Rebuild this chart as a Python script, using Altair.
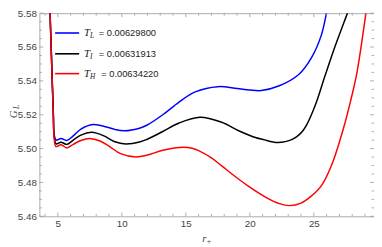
import altair as alt
import pandas as pd

# ---- data ----
r_low = [4.35, 4.45, 4.55, 4.65, 4.72, 4.87, 5.25, 5.7, 6.2, 6.8, 7.75, 8.8, 9.5, 10.2,
         11.44, 11.95, 13.2, 14.47, 15.73, 17.5, 19.0, 20.0, 20.9, 22.3, 23.8, 24.83,
         25.58, 26.04, 26.3]
G_low = [5.590, 5.567, 5.544, 5.521, 5.508, 5.5050, 5.5060, 5.5048, 5.5075, 5.5115, 5.5142,
         5.5128, 5.5112, 5.5105, 5.5122, 5.5138, 5.5200, 5.5275, 5.5335, 5.5366, 5.5355,
         5.5346, 5.5343, 5.5371, 5.5436, 5.5539, 5.5669, 5.5820, 5.5920]

r_int = [4.35, 4.45, 4.55, 4.65, 4.72, 4.87, 5.25, 5.7, 6.2, 6.8, 7.65, 8.6, 9.4, 10.3,
         11.44, 11.95, 13.2, 14.47, 16.1, 17.75, 19.26, 20.5, 21.04, 22.17, 23.31, 24.19,
         25.08, 25.83, 26.59, 27.35, 27.65, 27.9]
G_int = [5.590, 5.567, 5.543, 5.520, 5.507, 5.5028, 5.5038, 5.5025, 5.5050, 5.5080, 5.5096,
         5.5075, 5.5042, 5.5027, 5.5040, 5.5054, 5.5101, 5.5151, 5.5185, 5.5157, 5.5101,
         5.5064, 5.5054, 5.5036, 5.5054, 5.5110, 5.5250, 5.5420, 5.5590, 5.5745, 5.5805,
         5.5860]

r_high = [4.35, 4.45, 4.55, 4.65, 4.72, 4.85, 5.25, 5.7, 6.2, 6.8, 7.5, 8.3, 9.0, 9.9,
          11.1, 12.0, 13.2, 14.8, 15.5, 16.0, 17.0, 17.8, 18.8, 19.85, 21.4, 22.3, 23.1,
          24.0, 24.75, 25.58, 26.4, 27.35, 27.86, 28.36, 29.07, 29.25]
G_high = [5.590, 5.566, 5.542, 5.519, 5.5055, 5.5012, 5.5023, 5.5004, 5.5025, 5.5048, 5.5060,
          5.5045, 5.5015, 5.4970, 5.4951, 5.4962, 5.4990, 5.5008, 5.5002, 5.4988, 5.4945,
          5.4898, 5.4838, 5.4780, 5.4706, 5.4675, 5.4663, 5.4678, 5.4716, 5.4780, 5.4905,
          5.5129, 5.5278, 5.5446, 5.5800, 5.5900]

series_names = ["T_L", "T_I", "T_H"]
series_subs = ["L", "I", "H"]
series_values = ["0.00629800", "0.00631913", "0.00634220"]
series_colors = ["#0000ff", "#000000", "#ff0000"]

x_major = [5, 10, 15, 20, 25]
x_minor = [v for v in range(4, 30) if v not in x_major]
y_major = [5.46, 5.48, 5.50, 5.52, 5.54, 5.56, 5.58]
y_minor = [5.465, 5.47, 5.475, 5.485, 5.49, 5.495, 5.505, 5.51, 5.515, 5.525, 5.53,
           5.535, 5.545, 5.55, 5.555, 5.565, 5.57, 5.575]

# ---- layout ----
W, H = 341, 207
FRAME = "#aaaaaa"
TICK = "#999999"
LABEL = "#444444"

xs = alt.Scale(domain=[3.56, 29.7], nice=False, zero=False)
ys = alt.Scale(domain=[5.46, 5.58], nice=False, zero=False)
xaxis = alt.Axis(values=x_major, format="d", ticks=False, tickSize=0, domain=False,
                 grid=False, labelFont="Liberation Sans", labelFontSize=10,
                 labelColor=LABEL, labelPadding=2, title=None)
yaxis = alt.Axis(values=y_major, format=".2f", ticks=False, tickSize=0, domain=False,
                 grid=False, labelFont="Liberation Sans", labelFontSize=10,
                 labelColor=LABEL, labelPadding=3, title=None)
X = alt.X("r:Q", scale=xs, axis=xaxis)
Y = alt.Y("G:Q", scale=ys, axis=yaxis)

dummy = pd.DataFrame({"a": [0]})
layers = []

curves = [(r_low, G_low), (r_int, G_int), (r_high, G_high)]
for (rr, gg), col in zip(curves, series_colors):
    df = pd.DataFrame({"r": rr, "G": gg})
    layers.append(
        alt.Chart(df).mark_line(color=col, strokeWidth=1.5, interpolate="catmull-rom",
                                clip=True).encode(x=X, y=Y)
    )

# frame ticks (inward)
xmaj = pd.DataFrame({"r": x_major})
xmin = pd.DataFrame({"r": x_minor})
ymaj = pd.DataFrame({"G": y_major})
ymin = pd.DataFrame({"G": y_minor})
for df, ln in [(xmaj, 4), (xmin, 2.5)]:
    layers.append(alt.Chart(df).mark_rule(color=TICK, strokeWidth=0.8).encode(
        x=X, y=alt.value(H), y2=alt.value(H - ln)))
    layers.append(alt.Chart(df).mark_rule(color=TICK, strokeWidth=0.8).encode(
        x=X, y=alt.value(0), y2=alt.value(ln)))
for df, ln in [(ymaj, 4), (ymin, 2.5)]:
    layers.append(alt.Chart(df).mark_rule(color=TICK, strokeWidth=0.8).encode(
        y=Y, x=alt.value(0), x2=alt.value(ln)))
    layers.append(alt.Chart(df).mark_rule(color=TICK, strokeWidth=0.8).encode(
        y=Y, x=alt.value(W), x2=alt.value(W - ln)))

# legend
leg_y = [20.2, 41.4, 61.6]
eq_x = [60.5, 60.5, 63.0]
for sub, val, col, yy, ex in zip(series_subs, series_values, series_colors, leg_y, eq_x):
    layers.append(alt.Chart(dummy).mark_rule(color=col, strokeWidth=1.6).encode(
        x=alt.value(16), x2=alt.value(40.5), y=alt.value(yy)))
    layers.append(alt.Chart(dummy).mark_text(
        text="T", font="Liberation Serif", fontStyle="italic", fontSize=11,
        align="left", baseline="middle", color="#222222").encode(
        x=alt.value(45.5), y=alt.value(yy)))
    layers.append(alt.Chart(dummy).mark_text(
        text=sub, font="Liberation Serif", fontStyle="italic", fontSize=7.5,
        align="left", baseline="middle", color="#222222").encode(
        x=alt.value(51.5), y=alt.value(yy + 3)))
    layers.append(alt.Chart(dummy).mark_text(
        text="= " + val, font="Liberation Sans", fontSize=9.5,
        align="left", baseline="middle", color="#222222").encode(
        x=alt.value(ex), y=alt.value(yy)))

# axis titles
layers.append(alt.Chart(dummy).mark_text(
    text="r", font="Liberation Serif", fontStyle="italic", fontSize=11,
    align="left", baseline="alphabetic", color=LABEL).encode(
    x=alt.value(166), y=alt.value(H + 26)))
layers.append(alt.Chart(dummy).mark_text(
    text="+", font="Liberation Serif", fontSize=8,
    align="left", baseline="alphabetic", color=LABEL).encode(
    x=alt.value(170.5), y=alt.value(H + 28)))
layers.append(alt.Chart(dummy).mark_text(
    text="G", font="Liberation Serif", fontStyle="italic", fontSize=11, angle=270,
    align="center", baseline="alphabetic", color=LABEL).encode(
    x=alt.value(-22.5), y=alt.value(103)))
layers.append(alt.Chart(dummy).mark_text(
    text="L", font="Liberation Serif", fontStyle="italic", fontSize=7.5, angle=270,
    align="center", baseline="alphabetic", color=LABEL).encode(
    x=alt.value(-20.5), y=alt.value(95.5)))

chart = alt.layer(*layers).properties(
    width=W, height=H,
    autosize=alt.AutoSizeParams(type="none"),
    padding={"left": 32, "top": 3, "right": 0, "bottom": 29},
    background="white",
).configure_view(stroke=FRAME, strokeWidth=1)

chart.save("out.html", embed_options={"renderer": "svg", "actions": False})
